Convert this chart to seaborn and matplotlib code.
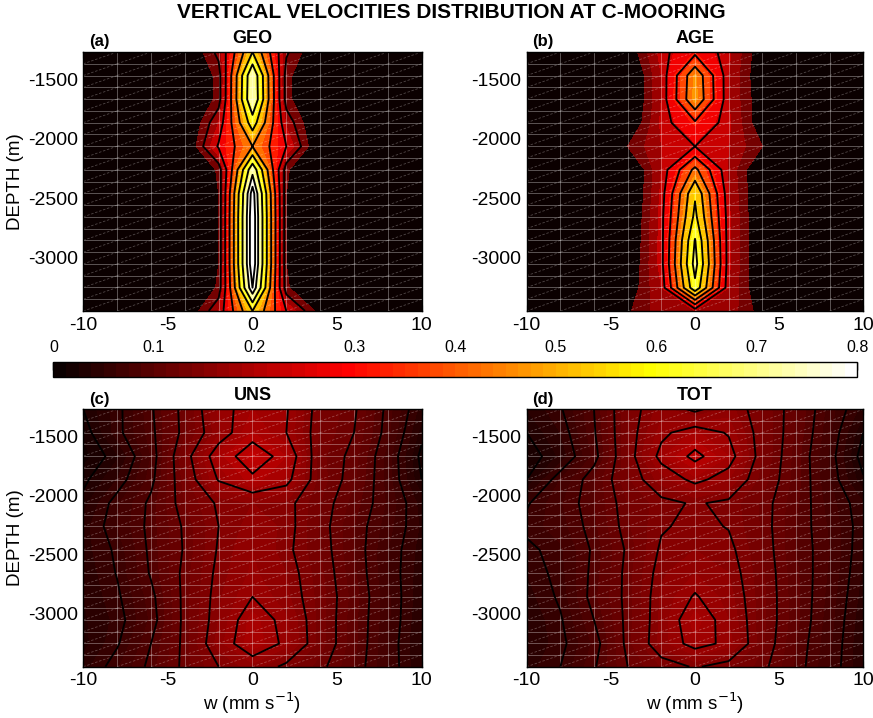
import numpy as np
import matplotlib
matplotlib.use("Agg")
import matplotlib.pyplot as plt
import seaborn as sns
from matplotlib.colors import Normalize
from matplotlib.cm import ScalarMappable
from matplotlib.collections import LineCollection

# w bins (mm s-1) and mooring depth levels (m)
w_bins = [-10, -8, -6, -4, -2, 0, 2, 4, 6, 8, 10]
depths = [-1273, -1470, -1670, -1865, -2065, -2260, -2460, -2655, -2855, -3050, -3250, -3445]

# distribution values, one row per depth, one column per w bin
geo = [
    [0, 0, 0, 0.02, 0.17, 0.55, 0.16, 0.03, 0, 0, 0],
    [0, 0, 0, 0.00, 0.12, 0.74, 0.12, 0.00, 0, 0, 0],
    [0, 0, 0, 0.00, 0.12, 0.75, 0.12, 0.00, 0, 0, 0],
    [0, 0, 0, 0.01, 0.20, 0.60, 0.19, 0.01, 0, 0, 0],
    [0, 0, 0, 0.02, 0.26, 0.449, 0.25, 0.02, 0, 0, 0],
    [0, 0, 0, 0.00, 0.11, 0.72, 0.11, 0.00, 0, 0, 0],
    [0, 0, 0, 0.00, 0.10, 0.86, 0.10, 0.00, 0, 0, 0],
    [0, 0, 0, 0.00, 0.10, 0.88, 0.10, 0.00, 0, 0, 0],
    [0, 0, 0, 0.00, 0.10, 0.88, 0.10, 0.00, 0, 0, 0],
    [0, 0, 0, 0.00, 0.10, 0.88, 0.10, 0.00, 0, 0, 0],
    [0, 0, 0, 0.00, 0.11, 0.82, 0.11, 0.00, 0, 0, 0],
    [0, 0, 0, 0.03, 0.20, 0.55, 0.25, 0.07, 0, 0, 0],
]
age = [
    [0, 0, 0, 0.05, 0.22, 0.30, 0.21, 0.05, 0, 0, 0],
    [0, 0, 0, 0.00, 0.20, 0.46, 0.20, 0.04, 0, 0, 0],
    [0, 0, 0, 0.00, 0.20, 0.47, 0.20, 0.05, 0, 0, 0],
    [0, 0, 0, 0.02, 0.21, 0.31, 0.21, 0.05, 0, 0, 0],
    [0, 0, 0, 0.10, 0.20, 0.24, 0.20, 0.10, 0, 0, 0],
    [0, 0, 0, 0.00, 0.20, 0.42, 0.19, 0.02, 0, 0, 0],
    [0, 0, 0, 0.00, 0.21, 0.55, 0.20, 0.02, 0, 0, 0],
    [0, 0, 0, 0.01, 0.22, 0.58, 0.21, 0.02, 0, 0, 0],
    [0, 0, 0, 0.02, 0.22, 0.645, 0.21, 0.02, 0, 0, 0],
    [0, 0, 0, 0.03, 0.22, 0.67, 0.21, 0.02, 0, 0, 0],
    [0, 0, 0, 0.05, 0.20, 0.62, 0.20, 0.03, 0, 0, 0],
    [0, 0, 0, 0.09, 0.18, 0.20, 0.18, 0.07, 0, 0, 0],
]
uns = [
    [0.030, 0.055, 0.087, 0.128, 0.172, 0.190, 0.182, 0.140, 0.123, 0.085, 0.045],
    [0.022, 0.055, 0.085, 0.127, 0.167, 0.200, 0.180, 0.138, 0.120, 0.083, 0.035],
    [0.015, 0.038, 0.080, 0.140, 0.195, 0.225, 0.200, 0.133, 0.115, 0.075, 0.025],
    [0.026, 0.050, 0.085, 0.135, 0.182, 0.205, 0.188, 0.135, 0.112, 0.075, 0.030],
    [0.035, 0.068, 0.094, 0.130, 0.153, 0.160, 0.157, 0.130, 0.105, 0.078, 0.045],
    [0.045, 0.070, 0.095, 0.123, 0.150, 0.165, 0.158, 0.128, 0.100, 0.074, 0.048],
    [0.045, 0.063, 0.094, 0.122, 0.152, 0.170, 0.155, 0.130, 0.100, 0.070, 0.045],
    [0.042, 0.061, 0.092, 0.125, 0.155, 0.172, 0.160, 0.133, 0.102, 0.070, 0.043],
    [0.040, 0.057, 0.085, 0.125, 0.158, 0.180, 0.163, 0.135, 0.105, 0.072, 0.042],
    [0.038, 0.053, 0.082, 0.125, 0.160, 0.195, 0.172, 0.135, 0.103, 0.072, 0.040],
    [0.036, 0.058, 0.090, 0.125, 0.165, 0.198, 0.175, 0.135, 0.103, 0.070, 0.038],
    [0.045, 0.068, 0.095, 0.125, 0.150, 0.165, 0.145, 0.125, 0.100, 0.070, 0.040],
]
tot = [
    [0.040, 0.058, 0.090, 0.140, 0.165, 0.145, 0.165, 0.138, 0.110, 0.075, 0.045],
    [0.030, 0.050, 0.088, 0.140, 0.175, 0.192, 0.178, 0.140, 0.108, 0.072, 0.030],
    [0.020, 0.042, 0.083, 0.140, 0.187, 0.217, 0.190, 0.140, 0.105, 0.068, 0.022],
    [0.030, 0.070, 0.100, 0.138, 0.165, 0.186, 0.170, 0.135, 0.105, 0.070, 0.032],
    [0.058, 0.078, 0.100, 0.130, 0.145, 0.152, 0.146, 0.128, 0.102, 0.075, 0.050],
    [0.065, 0.075, 0.097, 0.128, 0.148, 0.155, 0.149, 0.128, 0.100, 0.078, 0.052],
    [0.055, 0.068, 0.093, 0.123, 0.153, 0.160, 0.155, 0.130, 0.100, 0.080, 0.050],
    [0.050, 0.066, 0.095, 0.125, 0.158, 0.170, 0.160, 0.132, 0.102, 0.078, 0.048],
    [0.045, 0.063, 0.097, 0.125, 0.162, 0.182, 0.165, 0.133, 0.103, 0.076, 0.045],
    [0.040, 0.058, 0.090, 0.125, 0.163, 0.195, 0.170, 0.133, 0.103, 0.074, 0.042],
    [0.040, 0.055, 0.082, 0.125, 0.165, 0.188, 0.175, 0.132, 0.100, 0.072, 0.040],
    [0.045, 0.060, 0.088, 0.120, 0.140, 0.152, 0.142, 0.125, 0.098, 0.070, 0.040],
]

panel_names = ["GEO", "AGE", "UNS", "TOT"]
panel_tags = ["(a)", "(b)", "(c)", "(d)"]

# contour line levels per panel
lines_geo = [0.15, 0.25, 0.35, 0.45, 0.55, 0.65, 0.75, 0.82]
lines_age = [0.24, 0.32, 0.40, 0.48, 0.56, 0.64]
lines_uns = [0.03, 0.06, 0.09, 0.12, 0.15, 0.18, 0.21]
lines_tot = [0.03, 0.06, 0.09, 0.12, 0.15, 0.18, 0.21]

x_ticks = [-10, -5, 0, 5, 10]
y_ticks = [-3000, -2500, -2000, -1500]
cbar_ticks = [0, 0.1, 0.2, 0.3, 0.4, 0.5, 0.6, 0.7, 0.8]
cbar_labels = ["0", "0.1", "0.2", "0.3", "0.4", "0.5", "0.6", "0.7", "0.8"]

sns.set_theme(style="white")
plt.rcParams["font.family"] = ["Liberation Sans", "DejaVu Sans"]
plt.rcParams["text.color"] = "black"
plt.rcParams["axes.labelcolor"] = "black"

fig = plt.figure(figsize=(8.73, 7.18), dpi=100)
norm = Normalize(0, 0.8)
cmap = plt.get_cmap("hot")

# flat bands for the peaked panels (lowest band black, others coloured
# at their middle), fine bands for the smooth ones
fill_coarse = [0, 0.1, 0.15, 0.2, 0.25, 0.3, 0.35, 0.4, 0.45, 0.5,
               0.55, 0.6, 0.65, 0.7, 0.75, 0.82, 1.0]
fill_fine = list(np.round(np.arange(0, 0.255, 0.01), 3)) + [1.0]


def band_colors(levels, coarse):
    if coarse:
        mids = [(a + b) / 2 for a, b in zip(levels[1:-1], levels[2:])]
        return [cmap(0.0)] + [cmap(norm(v)) for v in mids]
    return [cmap(norm(v)) for v in levels[:-1]]


fields = [geo, age, uns, tot]
line_sets = [lines_geo, lines_age, lines_uns, lines_tot]
fill_sets = [fill_coarse, fill_coarse, fill_fine, fill_fine]

W, H = 873.0, 718.0
boxes = [
    [83.3 / W, 1 - 311 / H, 338.4 / W, 259 / H],
    [526.7 / W, 1 - 311 / H, 336.6 / W, 259 / H],
    [83.3 / W, 1 - 666.7 / H, 338.4 / W, 257.4 / H],
    [526.7 / W, 1 - 666.7 / H, 336.6 / W, 257.4 / H],
]

# faint triangulated mesh like the original surface rendering
mesh_x = np.arange(-10, 11, 2)
mesh_y = np.linspace(-1273, -3445, 23)

for i in range(4):
    ax = fig.add_axes(boxes[i])
    z = np.array(fields[i])
    fl = fill_sets[i]
    cols = band_colors(fl, i < 2)
    ax.contourf(w_bins, depths, z, levels=fl, colors=cols, antialiased=False)

    segs = []
    for yv in mesh_y:
        segs.append([(-10, yv), (10, yv)])
    for xv in mesh_x:
        segs.append([(xv, -3445), (xv, -1273)])
    ax.add_collection(LineCollection(segs, colors="white", alpha=0.33, linewidths=0.7))
    diag = []
    for j in range(len(mesh_y) - 1):
        for k in range(len(mesh_x) - 1):
            diag.append([(mesh_x[k], mesh_y[j + 1]), (mesh_x[k + 1], mesh_y[j])])
    ax.add_collection(LineCollection(diag, colors="white", alpha=0.28, linewidths=0.6,
                                     linestyles=(0, (3, 2))))

    ax.contour(w_bins, depths, z, levels=line_sets[i], colors="black", linewidths=1.35)

    ax.set_xlim(-10, 10)
    ax.set_ylim(-3445, -1273)
    ax.set_xticks(x_ticks)
    ax.set_yticks(y_ticks)
    ax.set_xticklabels([str(t) for t in x_ticks])
    ax.set_yticklabels([str(t) for t in y_ticks])
    ax.tick_params(direction="in", length=4, width=0.8, labelsize=14,
                   bottom=True, left=True, top=True, right=True, pad=4,
                   colors="black")
    for s in ax.spines.values():
        s.set_color("black")
        s.set_linewidth(1.0)
    ax.grid(False)

    ax.text(0.5, 1.035, panel_names[i], transform=ax.transAxes, ha="center",
            va="baseline", fontsize=13, fontweight="bold")
    ax.text(0.017, 1.022, panel_tags[i], transform=ax.transAxes, ha="left",
            va="baseline", fontsize=12, fontweight="bold")
    if i % 2 == 0:
        ax.set_ylabel("DEPTH (m)", fontsize=13.5, labelpad=3)
    if i >= 2:
        ax.set_xlabel("w (mm s$^{-1}$)", fontsize=13.5, labelpad=1)

# shared colorbar between the rows
cax = fig.add_axes([53.4 / W, 1 - 377 / H, 804 / W, 15 / H])
sm = ScalarMappable(norm=norm, cmap=plt.get_cmap("hot", 64))
cb = fig.colorbar(sm, cax=cax, orientation="horizontal", ticks=cbar_ticks)
cax.xaxis.set_ticks_position("top")
cax.xaxis.set_label_position("top")
cb.set_ticklabels(cbar_labels)
cax.tick_params(axis="x", direction="in", length=6, width=1.0, labelsize=11.5, pad=5,
                top=True, bottom=False, labeltop=True, labelbottom=False, colors="black")
for lab in cax.get_xticklabels():
    lab.set_family(["Liberation Sans Narrow", "Liberation Sans"])
cb.outline.set_linewidth(1.0)
cb.outline.set_edgecolor("black")

fig.text(0.517, 0.982, "VERTICAL VELOCITIES DISTRIBUTION AT C-MOORING",
         ha="center", va="center", fontsize=15, fontweight="bold", color="black")

fig.savefig("out.png", dpi=100, facecolor="white")
